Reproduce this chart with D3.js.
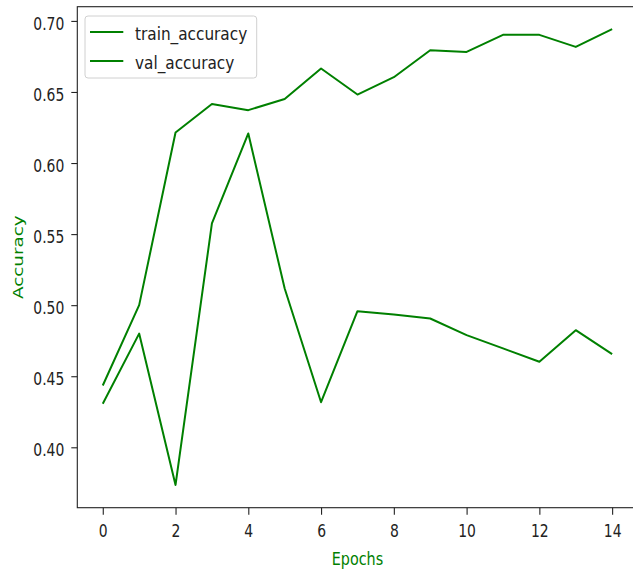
<!DOCTYPE html>
<html>
<head>
  <meta charset="utf-8">
  <title>Accuracy</title>
  <style>
    body { margin: 0; background: #fff; }
    .axis path, .axis line { fill: none; stroke: #222; stroke-width: 1.1; }
    .axis text { font-family: "DejaVu Sans", sans-serif; font-size: 17px; fill: #222; }
    .lbl { font-family: "DejaVu Sans", sans-serif; font-size: 17.5px; fill: green; }
    .leg text { font-family: "DejaVu Sans", sans-serif; font-size: 18px; fill: #222; }
  </style>
  <script src="https://d3js.org/d3.v7.min.js"></script>
</head>
<body>
  <script>
    // data
    var epochs = [0,1,2,3,4,5,6,7,8,9,10,11,12,13,14];
    var trainAcc = [0.4435,0.500,0.6215,0.6416,0.6372,0.6451,0.6665,0.6482,0.6604,0.6794,0.6782,0.6902,0.6902,0.6817,0.6942];
    var valAcc = [0.4306,0.480,0.3735,0.5575,0.6208,0.5117,0.4317,0.4958,0.4934,0.4906,0.4789,0.4696,0.4602,0.4824,0.4655];
    var seriesNames = ['train_accuracy','val_accuracy'];
    var xTicks = [0,2,4,6,8,10,12,14];
    var yTicks = [0.40,0.45,0.50,0.55,0.60,0.65,0.70];

    var width = 633, height = 570;
    var sx = 0.82; // picture is squeezed sideways, so is the text
    var svg = d3.select('body').append('svg')
      .attr('width', width)
      .attr('height', height);

    var plot = {left: 77.3, right: 637.6, top: 6.7, bottom: 507.7};

    var xScale = d3.scaleLinear().domain([-0.7, 14.7]).range([plot.left, plot.right]);
    var yScale = d3.scaleLinear().domain([0.3575, 0.7100]).range([plot.bottom, plot.top]);

    // lines
    var line = d3.line()
      .x(function(d, i){ return xScale(epochs[i]); })
      .y(function(d){ return yScale(d); });

    [trainAcc, valAcc].forEach(function(s){
      svg.append('path')
        .datum(s)
        .attr('d', line)
        .attr('fill', 'none')
        .attr('stroke', 'green')
        .attr('stroke-width', 2)
        .attr('stroke-linejoin', 'round');
    });

    // frame
    svg.append('rect')
      .attr('x', plot.left).attr('y', plot.top)
      .attr('width', plot.right - plot.left).attr('height', plot.bottom - plot.top)
      .attr('fill', 'none').attr('stroke', '#222').attr('stroke-width', 1.1);

    // axes
    var xAxis = d3.axisBottom(xScale).tickValues(xTicks).tickSize(7).tickFormat(d3.format('d'));
    var gx = svg.append('g')
      .attr('class', 'axis')
      .attr('transform', 'translate(0,' + plot.bottom + ')')
      .call(xAxis);
    gx.select('.domain').remove();
    gx.selectAll('text')
      .attr('y', 0).attr('dy', 0)
      .attr('transform', 'translate(0,29) scale(' + sx + ',1)');

    var yAxis = d3.axisLeft(yScale).tickValues(yTicks).tickSize(6).tickFormat(d3.format('.2f'));
    var gy = svg.append('g')
      .attr('class', 'axis')
      .attr('transform', 'translate(' + plot.left + ',0)')
      .call(yAxis);
    gy.select('.domain').remove();
    gy.selectAll('text')
      .attr('x', 0).attr('dy', 0)
      .attr('transform', 'translate(-13,8.3) scale(' + sx + ',1)');

    // axis labels
    svg.append('text')
      .attr('class', 'lbl')
      .attr('text-anchor', 'middle')
      .attr('transform', 'translate(' + (plot.left + plot.right) / 2 + ',565) scale(' + sx + ',1)')
      .text('Epochs');
    svg.append('text')
      .attr('class', 'lbl')
      .attr('text-anchor', 'middle')
      .attr('transform', 'translate(22.5,' + (plot.top + plot.bottom) / 2 + ') rotate(-90) scale(1.05,' + sx + ')')
      .text('Accuracy');

    // legend
    var leg = svg.append('g').attr('class', 'leg');
    leg.append('rect')
      .attr('x', 85).attr('y', 16).attr('width', 171.7).attr('height', 62)
      .attr('rx', 3)
      .attr('fill', 'white').attr('fill-opacity', 0.8)
      .attr('stroke', '#d0d0d0');
    var items = leg.selectAll('.item')
      .data(seriesNames)
      .enter().append('g')
      .attr('class', 'item')
      .attr('transform', function(d, i){ return 'translate(90,' + (32 + i * 29) + ')'; });
    items.append('line')
      .attr('x1', 0).attr('x2', 33.3)
      .attr('stroke', 'green').attr('stroke-width', 2);
    items.append('text')
      .attr('transform', 'translate(45,7.5) scale(0.85,1)')
      .text(function(d){ return d; });
  </script>
</body>
</html>
